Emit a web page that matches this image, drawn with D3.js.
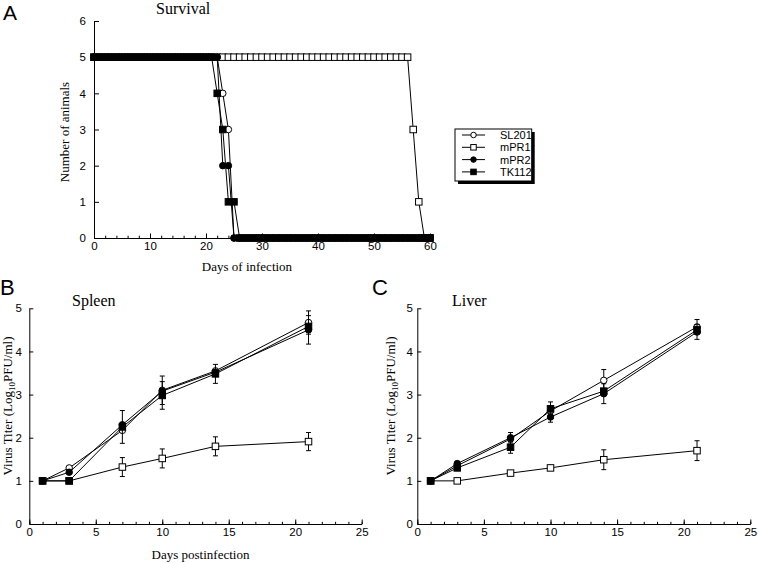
<!DOCTYPE html>
<html><head><meta charset="utf-8">
<script src="https://cdn.jsdelivr.net/npm/d3@7/dist/d3.min.js"></script>
<style>body{margin:0;background:#fff}</style>
</head><body>
<svg id="c" width="758" height="563"></svg>
<script>
// ---------- DATA ----------
const seriesNames = ["SL201", "mPR1", "mPR2", "TK112"];

const survivalDays = [0,1,2,3,4,5,6,7,8,9,10,11,12,13,14,15,16,17,18,19,20,21,22,23,24,25,26,27,28,29,30,31,32,33,34,35,36,37,38,39,40,41,42,43,44,45,46,47,48,49,50,51,52,53,54,55,56,57,58,59,60];
const survSL201 = [5,5,5,5,5,5,5,5,5,5,5,5,5,5,5,5,5,5,5,5,5,5,5,4,3,0,0,0,0,0,0,0,0,0,0,0,0,0,0,0,0,0,0,0,0,0,0,0,0,0,0,0,0,0,0,0,0,0,0,0,0];
const survMPR1  = [5,5,5,5,5,5,5,5,5,5,5,5,5,5,5,5,5,5,5,5,5,5,5,5,5,5,5,5,5,5,5,5,5,5,5,5,5,5,5,5,5,5,5,5,5,5,5,5,5,5,5,5,5,5,5,5,5,3,1,0,0];
const survMPR2  = [5,5,5,5,5,5,5,5,5,5,5,5,5,5,5,5,5,5,5,5,5,5,5,2,2,0,0,0,0,0,0,0,0,0,0,0,0,0,0,0,0,0,0,0,0,0,0,0,0,0,0,0,0,0,0,0,0,0,0,0,0];
const survTK112 = [5,5,5,5,5,5,5,5,5,5,5,5,5,5,5,5,5,5,5,5,5,5,4,3,1,1,0,0,0,0,0,0,0,0,0,0,0,0,0,0,0,0,0,0,0,0,0,0,0,0,0,0,0,0,0,0,0,0,0,0,0];

const titerDays = [1, 3, 7, 10, 14, 21];
const spleenSL201 = [1.0, 1.3, 2.17, 3.1, 3.55, 4.67];
const spleenMPR1  = [1.0, 1.0, 1.32, 1.52, 1.80, 1.91];
const spleenMPR2  = [1.0, 1.2, 2.3, 3.08, 3.52, 4.5];
const spleenTK112 = [1.0, 1.0, 2.25, 2.98, 3.48, 4.58];
const spleenSL201Err = [0, 0, 0, 0.33, 0, 0.27];
const spleenMPR1Err  = [0, 0, 0.22, 0.22, 0.22, 0.21];
const spleenMPR2Err  = [0, 0, 0, 0, 0, 0.33];
const spleenTK112Err = [0, 0, 0.38, 0.32, 0.22, 0];

const liverSL201 = [1.0, 1.35, 1.97, 2.62, 3.33, 4.57];
const liverMPR1  = [1.0, 1.0, 1.18, 1.30, 1.49, 1.70];
const liverMPR2  = [1.0, 1.4, 2.0, 2.48, 3.02, 4.45];
const liverTK112 = [1.0, 1.3, 1.78, 2.67, 3.08, 4.5];
const liverSL201Err = [0, 0, 0, 0, 0.25, 0.17];
const liverMPR1Err  = [0, 0, 0, 0, 0.23, 0.23];
const liverMPR2Err  = [0, 0, 0.12, 0.12, 0.23, 0.17];
const liverTK112Err = [0, 0, 0.14, 0.16, 0, 0];

const survivalTicksX = [0, 10, 20, 30, 40, 50, 60];
const survivalTicksY = [0, 1, 2, 3, 4, 5, 6];
const titerTicksX = [0, 5, 10, 15, 20, 25];
const titerTicksY = [0, 1, 2, 3, 4, 5];

// ---------- STYLE ----------
const SERIF = "'Liberation Serif','Times New Roman',serif";
const SANS = "'Liberation Sans',Arial,sans-serif";
const markerStyle = {
  SL201: {shape: "circle", fill: "#fff"},
  mPR1:  {shape: "square", fill: "#fff"},
  mPR2:  {shape: "circle", fill: "#000"},
  TK112: {shape: "square", fill: "#000"}
};
const drawOrder = ["mPR1", "SL201", "mPR2", "TK112"];
const fmt = d3.format("d");

const svg = d3.select("#c");

function drawMarker(g, name, x, y, size) {
  const st = markerStyle[name];
  if (st.shape === "circle") {
    g.append("circle").attr("cx", x).attr("cy", y).attr("r", size / 2)
      .attr("fill", st.fill).attr("stroke", "#000").attr("stroke-width", 1);
  } else {
    g.append("rect").attr("x", x - size / 2).attr("y", y - size / 2)
      .attr("width", size).attr("height", size)
      .attr("fill", st.fill).attr("stroke", "#000").attr("stroke-width", 1);
  }
}

function axes(g, x, y, o) {
  const xa = g.append("g").attr("transform", `translate(0,${y.range()[0]})`)
    .call(d3.axisBottom(x).tickValues(o.xTicks).tickFormat(fmt).tickSizeInner(-o.xMajor).tickSizeOuter(0).tickPadding(o.xPad));
  g.append("g").attr("transform", `translate(0,${y.range()[0]})`)
    .call(d3.axisBottom(x).tickValues(o.xMinor).tickSizeInner(-o.xMinorLen).tickSizeOuter(0).tickFormat(""))
    .call(s => s.select(".domain").remove());
  const ya = g.append("g").attr("transform", `translate(${x.range()[0]},0)`)
    .call(d3.axisLeft(y).tickValues(o.yTicks).tickFormat(fmt).tickSizeInner(-o.yMajor).tickSizeOuter(0).tickPadding(o.yPad));
  [xa, ya].forEach(a => {
    a.selectAll("text").attr("font-family", SANS).attr("font-size", 11.5).attr("fill", "#000");
    a.selectAll("line,path").attr("stroke", "#000").attr("stroke-width", 1);
  });
  g.selectAll(".tick line").attr("stroke", "#000");
}

// ---------- PANEL A ----------
(function () {
  const x = d3.scaleLinear().domain([0, 60]).range([94, 430]);
  const y = d3.scaleLinear().domain([0, 6]).range([238, 21]);
  const g = svg.append("g");
  axes(g, x, y, {
    xTicks: survivalTicksX, xMinor: d3.range(0, 61, 2), xMajor: 4.5, xMinorLen: 2.3, xPad: 4,
    yTicks: survivalTicksY, yMajor: 5, yPad: 8
  });
  const data = {SL201: survSL201, mPR1: survMPR1, mPR2: survMPR2, TK112: survTK112};
  const line = d3.line().x(d => x(d[0])).y(d => y(d[1]));
  drawOrder.forEach(name => {
    const pts = survivalDays.map((d, i) => [d, data[name][i]]);
    g.append("path").attr("d", line(pts)).attr("fill", "none").attr("stroke", "#000").attr("stroke-width", 1);
    pts.forEach(p => drawMarker(g, name, x(p[0]), y(p[1]), 6.5));
  });
  svg.append("text").attr("x", 3).attr("y", 20).attr("font-family", SANS).attr("font-size", 21).text("A");
  svg.append("text").attr("x", 156).attr("y", 14).attr("font-family", SERIF).attr("font-size", 16).text("Survival");
  svg.append("text").attr("transform", "translate(69,132) rotate(-90)").attr("text-anchor", "middle")
    .attr("font-family", SERIF).attr("font-size", 13).text("Number of animals");
  svg.append("text").attr("x", 247).attr("y", 271).attr("text-anchor", "middle")
    .attr("font-family", SERIF).attr("font-size", 13).text("Days of infection");

  // legend
  const lg = svg.append("g");
  lg.append("rect").attr("x", 458).attr("y", 132).attr("width", 76.7).attr("height", 52).attr("fill", "#000");
  lg.append("rect").attr("x", 455).attr("y", 129).attr("width", 76.7).attr("height", 52)
    .attr("fill", "#fff").attr("stroke", "#000").attr("stroke-width", 1);
  seriesNames.forEach((name, i) => {
    const yy = 135 + i * 12.3;
    lg.append("line").attr("x1", 462).attr("x2", 485).attr("y1", yy).attr("y2", yy).attr("stroke", "#000");
    drawMarker(lg, name, 473.5, yy, 5.5);
    lg.append("text").attr("x", 500).attr("y", yy).attr("dy", "0.36em")
      .attr("font-family", SANS).attr("font-size", 11).text(name);
  });
})();

// ---------- PANELS B, C ----------
function titerPanel(o) {
  const x = d3.scaleLinear().domain([0, 25]).range([o.x0, o.x1]);
  const y = d3.scaleLinear().domain([0, 5]).range([524, 308.3]);
  const g = svg.append("g");
  axes(g, x, y, {
    xTicks: titerTicksX, xMinor: d3.range(0, 26, 1), xMajor: 4.5, xMinorLen: 2.2, xPad: 3.5,
    yTicks: titerTicksY, yMajor: 4, yPad: o.yPad
  });
  const line = d3.line().x(d => x(d[0])).y(d => y(d[1]));
  drawOrder.forEach(name => {
    const vals = o.vals[name], errs = o.errs[name];
    const pts = titerDays.map((d, i) => [d, vals[i], errs[i]]);
    g.append("path").attr("d", line(pts)).attr("fill", "none").attr("stroke", "#000").attr("stroke-width", 1);
    pts.filter(p => p[2] > 0).forEach(p => {
      const cx = x(p[0]), t = y(p[1] + p[2]), b = y(p[1] - p[2]);
      g.append("line").attr("x1", cx).attr("x2", cx).attr("y1", t).attr("y2", b).attr("stroke", "#000");
      g.append("line").attr("x1", cx - 2.5).attr("x2", cx + 2.5).attr("y1", t).attr("y2", t).attr("stroke", "#000");
      g.append("line").attr("x1", cx - 2.5).attr("x2", cx + 2.5).attr("y1", b).attr("y2", b).attr("stroke", "#000");
    });
    pts.forEach(p => drawMarker(g, name, x(p[0]), y(p[1]), 6.5));
  });
  svg.append("text").attr("x", o.letterX).attr("y", 295).attr("font-family", SANS).attr("font-size", 22).text(o.letter);
  svg.append("text").attr("x", o.titleX).attr("y", 306).attr("font-family", SERIF).attr("font-size", 16).text(o.title);
  const yl = svg.append("text").attr("transform", `translate(${o.ylabX},406) rotate(-90)`).attr("text-anchor", "middle")
    .attr("font-family", SERIF).attr("font-size", 13);
  yl.append("tspan").text("Virus Titer (Log");
  yl.append("tspan").attr("font-size", 9).attr("dy", 2.5).text("10");
  yl.append("tspan").attr("dy", -2.5).text("PFU/ml)");
  if (o.xlab) {
    svg.append("text").attr("x", (o.x0 + o.x1) / 2 + 5).attr("y", 559).attr("text-anchor", "middle")
      .attr("font-family", SERIF).attr("font-size", 13).text(o.xlab);
  }
}

titerPanel({
  x0: 29.3, x1: 361.7, yPad: 7.5, letter: "B", letterX: 0, title: "Spleen", titleX: 72, ylabX: 12,
  xlab: "Days postinfection",
  vals: {SL201: spleenSL201, mPR1: spleenMPR1, mPR2: spleenMPR2, TK112: spleenTK112},
  errs: {SL201: spleenSL201Err, mPR1: spleenMPR1Err, mPR2: spleenMPR2Err, TK112: spleenTK112Err}
});
titerPanel({
  x0: 417.3, x1: 750.3, yPad: 4.5, letter: "C", letterX: 372, title: "Liver", titleX: 452, ylabX: 395,
  xlab: null,
  vals: {SL201: liverSL201, mPR1: liverMPR1, mPR2: liverMPR2, TK112: liverTK112},
  errs: {SL201: liverSL201Err, mPR1: liverMPR1Err, mPR2: liverMPR2Err, TK112: liverTK112Err}
});
</script>
</body></html>
